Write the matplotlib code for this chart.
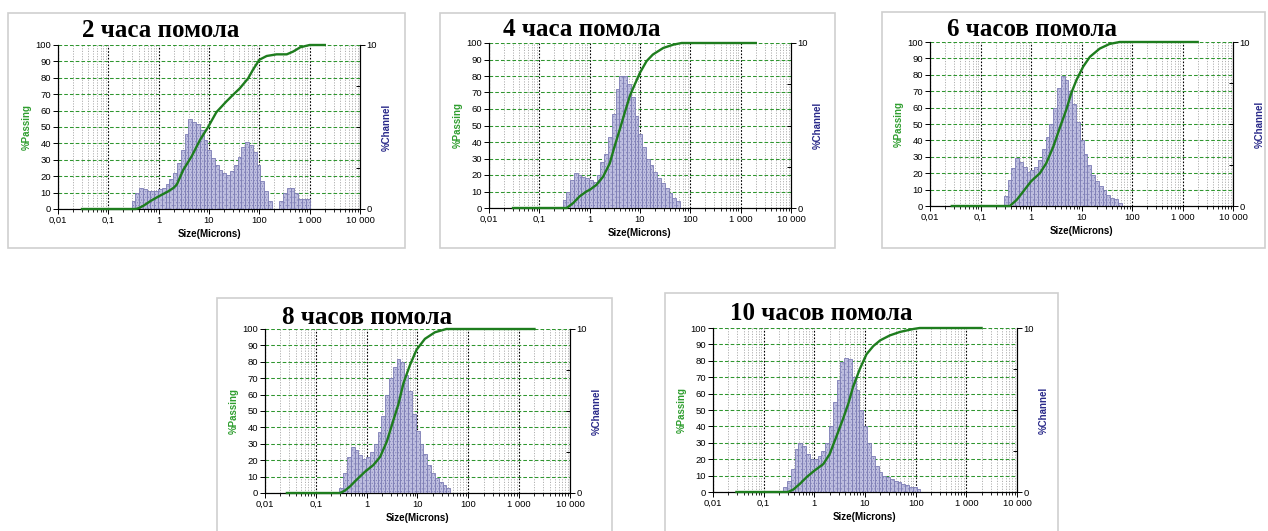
import matplotlib.pyplot as plt
from matplotlib.patches import Rectangle
from matplotlib.ticker import FixedLocator, NullFormatter

plt.rcParams["font.family"] = ["Liberation Sans", "DejaVu Sans"]
plt.rcParams["hatch.linewidth"] = 0.4

W, H = 1268, 531

# analyser channel limits, microns
channel_edges = [0.243, 0.289, 0.344, 0.409, 0.486, 0.578, 0.688, 0.818, 0.972,
                 1.156, 1.375, 1.635, 1.945, 2.312, 2.750, 3.270, 3.889, 4.625,
                 5.500, 6.541, 7.778, 9.250, 11.00, 13.08, 15.56, 18.50, 22.00,
                 26.16, 31.11, 37.00, 44.00, 52.33, 62.23, 74.00, 88.00, 104.7,
                 124.5, 148.0, 176.0, 209.3, 248.9, 296.0, 352.0, 418.6, 497.8,
                 592.0, 704.0, 837.2, 995.6]

titles = ["2 часа помола", "4 часа помола", "6 часов помола",
          "8 часов помола", "10 часов помола"]

# index of the first channel drawn in each panel
first_channel = [1, 1, 1, 1, 0]

# %Channel
channel_2h = [0.5, 1.0, 1.3, 1.2, 1.1, 1.1, 1.1, 1.2, 1.3, 1.5, 1.8, 2.2, 2.8,
              3.6, 4.6, 5.5, 5.3, 5.2, 4.8, 4.2, 3.6, 3.1, 2.7, 2.4,
              2.2, 2.1, 2.3, 2.7, 3.2, 3.8, 4.1, 3.9, 3.5, 2.7, 1.7, 1.1, 0.5,
              0.0, 0.0, 0.5, 1.0, 1.3, 1.3, 1.0, 0.6, 0.6, 0.6]
channel_4h = [0.5, 1.0, 1.7, 2.1, 2.0, 1.9, 1.8, 1.7, 1.6, 2.0, 2.8, 3.3, 4.3,
              5.7, 7.2, 8.0, 8.0, 7.5, 6.7, 5.6, 4.5, 3.7, 3.0, 2.6, 2.2, 1.8,
              1.5, 1.2, 0.9, 0.6, 0.4]
channel_6h = [0.6, 1.6, 2.3, 2.9, 2.7, 2.4, 2.1, 2.2, 2.4, 2.8, 3.5, 4.2, 5.0,
              6.0, 7.2, 7.9, 7.7, 7.0, 6.2, 5.1, 4.0, 3.2, 2.5, 1.9, 1.5, 1.2,
              1.0, 0.7, 0.5, 0.4, 0.2]
channel_8h = [0.3, 1.2, 2.2, 2.8, 2.6, 2.3, 2.1, 2.2, 2.5, 3.0, 3.7, 4.7, 6.0,
              7.0, 7.7, 8.2, 8.0, 7.2, 6.2, 4.8, 3.8, 3.0, 2.4, 1.7, 1.2, 0.9,
              0.7, 0.5, 0.3]
channel_10h = [0.3, 0.7, 1.4, 2.6, 3.0, 2.8, 2.3, 2.0, 2.0, 2.2, 2.5, 3.0, 4.0,
               5.5, 6.8, 7.9, 8.2, 8.1, 7.0, 6.2, 5.0, 4.0, 3.0, 2.2, 1.6, 1.2,
               1.0, 0.9, 0.8, 0.7, 0.6, 0.5, 0.4, 0.3, 0.3, 0.2]

# %Passing curves
size_2h = [0.03, 0.35, 0.4, 0.5, 0.7, 1.0, 1.5, 2.0, 2.3, 3.1, 4.5, 6.6, 9.6,
           14, 22, 30, 41, 60, 75, 100, 140, 220, 350, 470, 650, 1000, 2000]
passing_2h = [0, 0, 0.5, 2, 5, 7.7, 10.5, 13, 15, 24, 32, 42, 50, 59, 65.5,
              69.6, 73.6, 79.7, 85, 91, 93.3, 94.3, 94.3, 96, 98.6, 100, 100]
size_4h = [0.03, 0.35, 0.47, 0.63, 0.86, 1.0, 1.36, 1.85, 2.5, 3.1, 4.0, 5.0,
           6.3, 7.9, 10, 13.5, 18, 29, 46, 67, 2000]
passing_4h = [0, 0, 3, 7, 10, 11, 14, 19, 27, 37, 48, 58, 68, 75, 82, 89, 93,
              97, 99, 100, 100]
size_6h = [0.027, 0.38, 0.52, 0.70, 1.0, 1.5, 2.0, 2.75, 3.7, 5.0, 6.3, 8.0,
           10.8, 14.7, 23, 36, 57, 2000]
passing_6h = [0, 0, 3.7, 8.8, 15, 20, 26, 36, 47.5, 58.7, 69, 77, 85, 91, 96,
              98.8, 100, 100]
size_8h = [0.027, 0.3, 0.37, 0.47, 0.63, 0.93, 1.35, 1.84, 2.5, 3.3, 4.2, 5.3,
           7.1, 9.6, 14, 22, 37, 2000]
passing_8h = [0, 0, 1.4, 4, 8, 13, 17, 22, 31.5, 43.7, 54, 67, 78, 87.4, 94,
              98, 100, 100]
size_10h = [0.029, 0.3, 0.38, 0.52, 0.70, 1.0, 1.5, 2.0, 2.7, 3.7, 4.7, 5.8,
            7.9, 10.7, 14.6, 20, 31, 49, 90, 120, 2000]
passing_10h = [0, 0, 1.4, 5, 9, 13, 17, 23, 33.5, 44.7, 54, 64, 75, 84, 89,
               92.5, 95.5, 97.6, 99.4, 100, 100]

channels = [channel_2h, channel_4h, channel_6h, channel_8h, channel_10h]
sizes = [size_2h, size_4h, size_6h, size_8h, size_10h]
passing = [passing_2h, passing_4h, passing_6h, passing_8h, passing_10h]

x_ticks = [0.01, 0.1, 1, 10, 100, 1000, 10000]
x_tick_labels = ["0,01", "0,1", "1", "10", "100", "1 000", "10 000"]
x_minor = [m * 10.0 ** e for e in range(-2, 4) for m in range(2, 10)]
pass_ticks = list(range(0, 101, 10))

# layout, pixels: axes (left, top, right, bottom), frame, title anchor
axes_px = [(58, 45, 360, 209), (489, 43, 791, 208), (930, 42, 1233, 206),
           (265, 329, 570, 493), (713, 328, 1017, 492)]
frame_px = [(8, 13, 405, 248), (440, 13, 835, 248), (882, 12, 1265, 248),
            (217, 298, 612, 540), (665, 293, 1058, 540)]
title_px = [(82, 31), (503, 30), (947, 29), (282, 318), (730, 313)]

GREEN = "#1e7d1e"
BAR_FACE = "#bfbfe0"
BAR_EDGE = "#7c7cb4"

fig = plt.figure(figsize=(W / 100, H / 100), dpi=100)
fig.patch.set_facecolor("white")

for i in range(5):
    x0, y0, x1, y1 = frame_px[i]
    fig.patches.append(Rectangle((x0 / W, 1 - y1 / H), (x1 - x0) / W, (y1 - y0) / H,
                                 transform=fig.transFigure, facecolor="none",
                                 edgecolor="#cfcfcf", lw=1.2, zorder=-1))

    l, t, r, b = axes_px[i]
    ax = fig.add_axes([l / W, 1 - b / H, (r - l) / W, (b - t) / H])
    ax.set_xscale("log")
    ax.set_xlim(0.01, 10000)
    ax.set_ylim(0, 100)
    ax.xaxis.set_major_locator(FixedLocator(x_ticks))
    ax.xaxis.set_minor_locator(FixedLocator(x_minor))
    ax.xaxis.set_minor_formatter(NullFormatter())
    ax.set_xticklabels(x_tick_labels)
    ax.set_yticks(pass_ticks)
    ax.tick_params(axis="both", which="major", labelsize=6.8, length=3.5,
                   width=0.7, pad=1.5)
    ax.tick_params(axis="x", which="minor", length=2.2, width=0.6)
    ax.grid(True, which="minor", axis="x", color="#b0b0b0",
            linestyle=(0, (1.2, 1.5)), lw=0.7)
    ax.grid(True, which="major", axis="x", color="black",
            linestyle=(0, (1.5, 1.5)), lw=0.8)
    ax.grid(True, which="major", axis="y", color="#2f962f",
            linestyle=(0, (3.5, 2)), lw=0.75, snap=True)
    ax.set_axisbelow(True)
    ax.spines["top"].set_visible(False)
    ax.set_xlabel("Size(Microns)", fontsize=7, fontweight="bold")
    ax.set_ylabel("%Passing", fontsize=7, fontweight="bold", color="#2f9e2f")
    ax.yaxis.set_label_coords(-26 / (r - l), 0.5)
    ax.xaxis.set_label_coords(0.5, -20 / (b - t))

    ax2 = ax.twinx()
    ax2.set_ylim(0, 10)
    ax2.set_yticks([0, 10])
    ax2.yaxis.set_minor_locator(FixedLocator([2.5, 5, 7.5]))
    ax2.tick_params(axis="y", which="major", labelsize=6.8, length=3.5,
                    width=0.7, pad=1)
    ax2.tick_params(axis="y", which="minor", direction="in", length=3, width=0.7)
    ax2.spines["top"].set_visible(False)
    ax2.set_ylabel("%Channel", fontsize=7, fontweight="bold", color="#2a2a8a")
    ax2.yaxis.set_label_coords(1 + 22 / (r - l), 0.5)

    s = first_channel[i]
    vals = channels[i]
    lefts = channel_edges[s:s + len(vals)]
    rights = channel_edges[s + 1:s + 1 + len(vals)]
    widths = [b_ - a_ for a_, b_ in zip(lefts, rights)]
    ax2.bar(lefts, vals, width=widths, align="edge", facecolor=BAR_FACE,
            edgecolor=BAR_EDGE, lw=0.6, hatch="......")

    ax3 = ax.twinx()
    ax3.set_ylim(0, 100)
    ax3.axis("off")
    ax3.plot(sizes[i], passing[i], color=GREEN, lw=1.7, clip_on=False,
             solid_joinstyle="round")

    tx, ty = title_px[i]
    fig.text(tx / W, 1 - ty / H, titles[i], fontsize=18, fontweight="bold",
             family=["Liberation Serif", "DejaVu Serif"], va="center", ha="left")

fig.savefig("out.png", dpi=100)
